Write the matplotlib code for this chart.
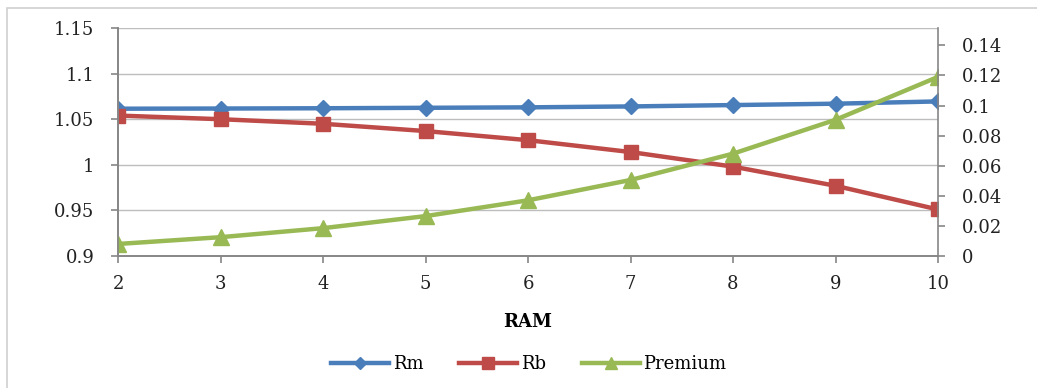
import matplotlib.pyplot as plt

ram = [2, 3, 4, 5, 6, 7, 8, 9, 10]
rm = [1.0615, 1.0617, 1.0620, 1.0625, 1.0630, 1.0640, 1.0655, 1.0670, 1.0695]
rb = [1.0540, 1.0500, 1.0450, 1.0370, 1.0270, 1.0140, 0.9980, 0.9770, 0.9510]
premium = [0.0080, 0.0125, 0.0185, 0.0265, 0.0370, 0.0505, 0.0680, 0.0905, 0.1190]

left_ticks = [0.9, 0.95, 1.0, 1.05, 1.1, 1.15]
left_labels = ['0.9', '0.95', '1', '1.05', '1.1', '1.15']
right_ticks = [0, 0.02, 0.04, 0.06, 0.08, 0.1, 0.12, 0.14]
right_labels = ['0', '0.02', '0.04', '0.06', '0.08', '0.1', '0.12', '0.14']

plt.rcParams['font.family'] = ['DejaVu Serif']
axis_gray = '#868686'
fs = 13

fig = plt.figure(figsize=(10.37, 3.88), dpi=100)
ax = fig.add_axes([118 / 1037, 1 - 256 / 388, (938 - 118) / 1037, (256 - 28) / 388])

# outer chart frame
fig.patches.append(plt.Rectangle((7 / 1037, -0.01), 1.1, 1 - 8 / 388 + 0.01,
                                 transform=fig.transFigure, fill=False,
                                 edgecolor='#d0d0d0', lw=1.2))

l1, = ax.plot(ram, rm, color='#4a7ebb', lw=3.2, marker='D', ms=8, label='Rm')
l2, = ax.plot(ram, rb, color='#be4b48', lw=3.2, marker='s', ms=10, label='Rb')
ax.set_ylim(0.9, 1.15)
ax.set_xlim(2, 10)
ax.set_yticks(left_ticks)
ax.set_yticklabels(left_labels)
ax.set_xticks(ram)
ax.grid(axis='y', color='#bdbdbd', lw=1)
ax.set_axisbelow(True)

ax2 = ax.twinx()
l3, = ax2.plot(ram, premium, color='#98b954', lw=3.2, marker='^', ms=11, label='Premium')
ax2.set_ylim(0, 0.1515)
ax2.set_yticks(right_ticks)
ax2.set_yticklabels(right_labels)

for a in (ax, ax2):
    a.spines['top'].set_visible(False)
    for s in a.spines.values():
        s.set_color(axis_gray)
        s.set_linewidth(1.2)
    a.tick_params(colors=axis_gray, labelcolor='#222222', labelsize=fs,
                  length=5, width=1.2)
ax.spines['right'].set_visible(False)
ax.tick_params(axis='y', pad=12)
ax2.tick_params(axis='y', pad=12)
ax.tick_params(axis='x', pad=9)

ax.set_xlabel('RAM', fontsize=fs, fontweight='bold', labelpad=14)

fig.legend(handles=[l1, l2, l3], loc='center', bbox_to_anchor=(0.51, 1 - 364 / 388),
           ncol=3, frameon=False, fontsize=fs, handlelength=3.2, columnspacing=2.0,
           handletextpad=0.2, markerscale=0.8)

fig.savefig('out.png', dpi=100)
